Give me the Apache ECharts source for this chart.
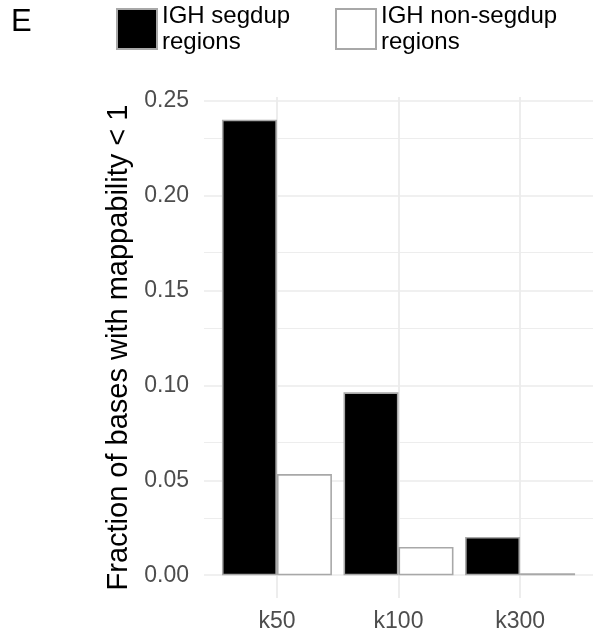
<!DOCTYPE html>
<html>
<head>
<meta charset="utf-8">
<script src="https://cdn.jsdelivr.net/npm/echarts@6/dist/echarts.min.js"></script>
<style>html,body{margin:0;padding:0;background:#fff;}#c{width:603px;height:641px;}</style>
</head>
<body>
<div id="c"></div>
<script>
var categories = ['k50', 'k100', 'k300'];
var segdupValues = [0.240, 0.0964, 0.0202];
var nonSegdupValues = [0.0533, 0.0149, 0.0010];
var yTickValues = [0, 0.05, 0.10, 0.15, 0.20, 0.25];
var yMinorValues = [0.025, 0.075, 0.125, 0.175, 0.225];
var seriesNames = ['IGH segdup\nregions', 'IGH non-segdup\nregions'];
var panelLabel = 'E';
var yTitle = 'Fraction of bases with mappability < 1';

var FONT = 'Liberation Sans, Arial, sans-serif';
var catPos = categories.map(function (c, i) { return i + 1; });

var gridLines = [];
yTickValues.forEach(function (v) {
  gridLines.push({ yAxis: v, lineStyle: { color: '#ebebeb', width: 1.6, type: 'solid' } });
});
yMinorValues.forEach(function (v) {
  gridLines.push({ yAxis: v, lineStyle: { color: '#ebebeb', width: 0.9, type: 'solid' } });
});
catPos.forEach(function (v) {
  gridLines.push({ xAxis: v, lineStyle: { color: '#ebebeb', width: 1.8, type: 'solid' } });
});

var legendText = { fontSize: 24, lineHeight: 26, color: '#000', fontFamily: FONT };

var chart = echarts.init(document.getElementById('c'), null, { renderer: 'canvas' });
chart.setOption({
  animation: false,
  backgroundColor: '#ffffff',
  textStyle: { fontFamily: FONT },
  title: {
    text: panelLabel, left: 11, top: 7, padding: 0,
    textStyle: { fontSize: 31, fontWeight: 'normal', color: '#000', fontFamily: FONT }
  },
  legend: [
    {
      data: [seriesNames[0]], left: 116, top: 3, padding: 0, itemWidth: 40, itemHeight: 40,
      icon: 'rect', selectedMode: false, textStyle: legendText
    },
    {
      data: [seriesNames[1]], left: 335, top: 3, padding: 0, itemWidth: 40, itemHeight: 40,
      icon: 'rect', selectedMode: false, textStyle: legendText
    }
  ],
  grid: { left: 204, right: 10, top: 97, bottom: 43, containLabel: false },
  xAxis: {
    type: 'value', min: 0.4, max: 3.6,
    axisLine: { show: false }, axisTick: { show: false }, splitLine: { show: false },
    axisLabel: {
      customValues: catPos, margin: 12,
      fontSize: 23, color: '#4d4d4d', fontFamily: FONT,
      formatter: function (v) { return categories[Math.round(v) - 1] || ''; }
    }
  },
  yAxis: {
    type: 'value', min: -0.012, max: 0.252,
    axisLine: { show: false }, axisTick: { show: false }, splitLine: { show: false },
    axisLabel: {
      customValues: yTickValues, margin: 15,
      fontSize: 23, color: '#4d4d4d', fontFamily: FONT,
      formatter: function (v) { return v.toFixed(2); }
    },
    name: yTitle, nameLocation: 'middle', nameGap: 66, nameRotate: 90,
    nameTextStyle: { fontSize: 29, color: '#000', fontFamily: FONT }
  },
  series: [
    {
      type: 'line', data: [], z: 1, silent: true, showSymbol: false,
      markLine: { silent: true, symbol: 'none', z: 1, label: { show: false }, data: gridLines }
    },
    {
      name: seriesNames[0], type: 'bar', z: 5, barWidth: 55, barGap: '0%',
      itemStyle: { color: '#000000', borderColor: '#a8a8a8', borderWidth: 1.6 },
      data: segdupValues.map(function (v, i) { return [catPos[i], v]; })
    },
    {
      name: seriesNames[1], type: 'bar', z: 5, barWidth: 55, barGap: '0%',
      itemStyle: { color: '#ffffff', borderColor: '#a8a8a8', borderWidth: 1.6 },
      data: nonSegdupValues.map(function (v, i) { return [catPos[i], v]; })
    }
  ]
});
</script>
</body>
</html>
